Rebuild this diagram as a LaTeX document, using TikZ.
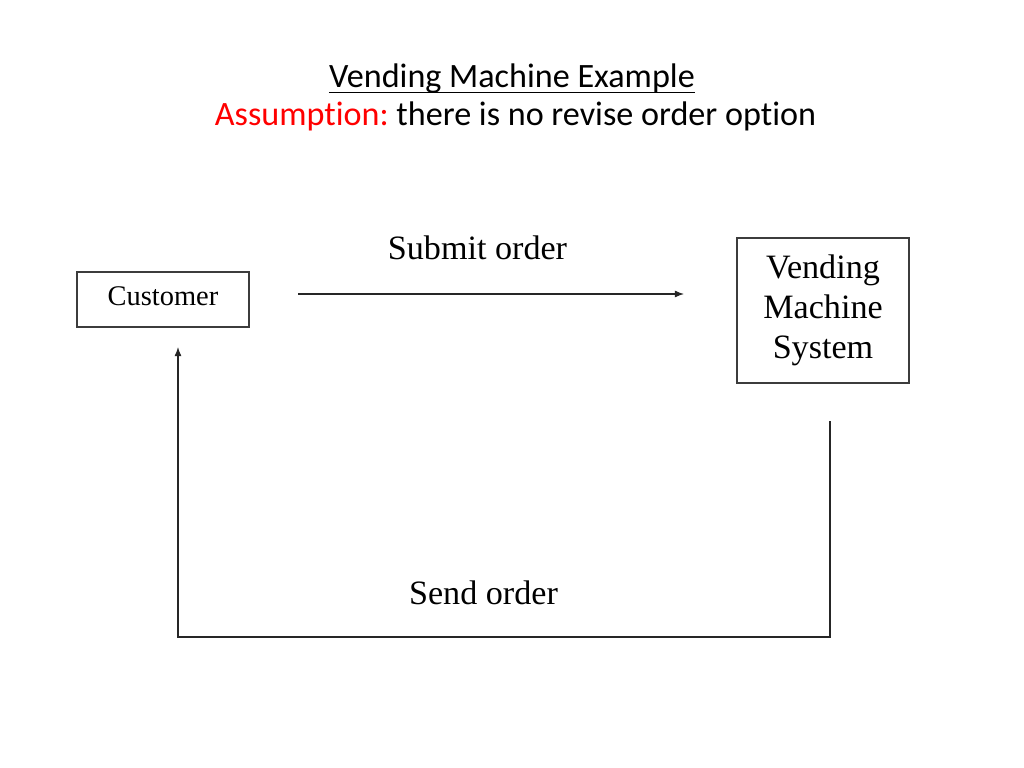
\documentclass[tikz,border=0pt]{standalone}
\usepackage{fontspec}
\setmainfont{Liberation Serif}
\newfontfamily\titlefont[Ligatures={NoCommon}]{Carlito}
\usetikzlibrary{arrows.meta}
\definecolor{assumred}{RGB}{255,0,0}
\definecolor{linegray}{RGB}{60,60,60}
\begin{document}
\frenchspacing
\begin{tikzpicture}[x=0.703125pt,y=-0.703125pt,
  boxnode/.style={draw=linegray,line width=0.8pt,inner sep=0pt,align=center},
  conn/.style={draw=black!85,line width=0.8pt},
  arr/.style={conn,-{Latex[length=6.5pt,width=5pt]}},
  lbl/.style={anchor=base,inner sep=0pt,font=\fontsize{24}{28.125}\selectfont},
  ttl/.style={anchor=base,inner sep=0pt,font=\titlefont\fontsize{24}{28}\selectfont}]
\useasboundingbox (0,0) rectangle (1024,768);
\fill[white] (0,0) rectangle (1024,768);
% title
\node[ttl] (title) at (512,87.5) {Vending Machine Example};
\draw[black,line width=1.1pt] (title.west |- 0,92.5) -- (title.east |- 0,92.5);
\node[ttl] (assum) at (515.5,126) {\frenchspacing\textcolor{assumred}{Assumption:} there is no revise order option};
% boxes
\node[boxnode,minimum width=121pt,minimum height=38.7pt,font=\fontsize{20}{24}\selectfont,text depth=4.8pt] (cust) at (163,299.5) {Customer};
\node[boxnode,minimum width=121pt,minimum height=102pt,font=\fontsize{24}{28.125}\selectfont] (vms) at (823,310.5) {Vending\\Machine\\System};
% labels
\node[lbl] (submit) at (477.5,260) {Submit order};
\node[lbl] (send) at (483.5,604) {Send order};
% connectors
\coordinate (s1) at (298,294);
\coordinate (s2) at (684,294);
\draw[arr] (s1) -- (s2);
\coordinate (r1) at (830,421);
\coordinate (r2) at (830,637);
\coordinate (r3) at (178,637);
\coordinate (r4) at (178,347);
\draw[arr] (r1) -- (r2) -- (r3) -- (r4);
\end{tikzpicture}
\end{document}
